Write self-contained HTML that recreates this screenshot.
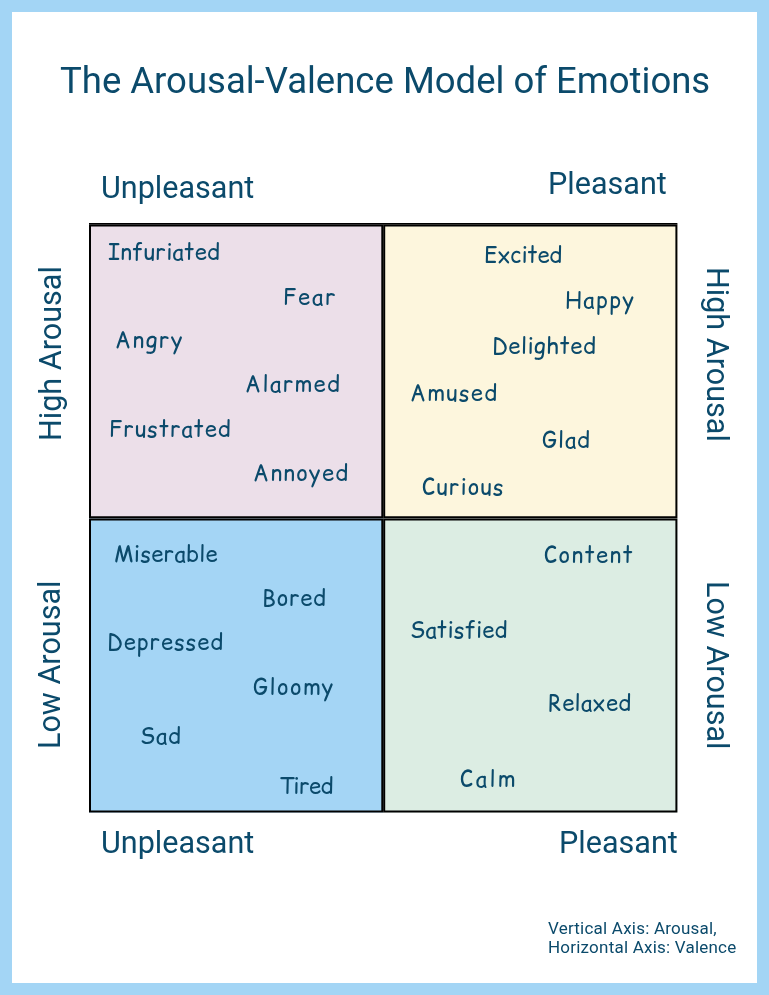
<!DOCTYPE html>
<html><head><meta charset="utf-8"><title>The Arousal-Valence Model of Emotions</title><style>
*{margin:0;padding:0;box-sizing:border-box}
html,body{width:769px;height:995px;overflow:hidden}
body{background:#a3d5f5;position:relative;font-family:"Roboto","Liberation Sans",sans-serif;color:#0b4a6b}
.card{position:absolute;left:12px;top:12px;width:745px;height:971px;background:#fff}
.t{position:absolute;white-space:nowrap;line-height:1;will-change:transform}
.r{font-family:"Roboto","Liberation Sans",sans-serif;}
.w{font-family:"Comic Relief","Comic Sans MS",cursive;font-size:22.0px;font-weight:400;color:#0b4a6b}
.g{position:absolute;left:0;top:0}
</style></head><body>
<div class="card"></div>
<div class="t r" style="left:59.6px;top:62.77px;font-size:36.5px;letter-spacing:0px">The Arousal-Valence Model of Emotions</div>
<div class="t r" style="left:101.2px;top:173.28px;font-size:30.55px;letter-spacing:0px">Unpleasant</div>
<div class="t r" style="left:548.1px;top:169.48px;font-size:30.55px;letter-spacing:0px">Pleasant</div>
<div class="t r" style="left:101.2px;top:828.28px;font-size:30.55px;letter-spacing:0px">Unpleasant</div>
<div class="t r" style="left:558.9px;top:828.18px;font-size:30.55px;letter-spacing:0px">Pleasant</div>
<div class="t r" style="left:35.88px;top:441.1px;font-size:30.55px;letter-spacing:0px;transform-origin:0 0;transform:rotate(-90deg)">High Arousal</div>
<div class="t r" style="left:35.08px;top:749.4px;font-size:30.55px;letter-spacing:0px;transform-origin:0 0;transform:rotate(-90deg)">Low Arousal</div>
<div class="t r" style="left:732.32px;top:267.0px;font-size:30.55px;letter-spacing:0px;transform-origin:0 0;transform:rotate(90deg)">High Arousal</div>
<div class="t r" style="left:732.22px;top:580.9px;font-size:30.55px;letter-spacing:0px;transform-origin:0 0;transform:rotate(90deg)">Low Arousal</div>
<svg class="g" width="769" height="995" viewBox="0 0 769 995"><rect x="89" y="224.5" width="294.3" height="293.8" fill="#ecdfe9"/><rect x="383.2" y="224.5" width="294.2" height="293.8" fill="#fdf6dd"/><rect x="89" y="518.5" width="294.3" height="294.0" fill="#a4d5f5"/><rect x="383.2" y="518.5" width="294.2" height="294.0" fill="#dcede3"/><path d="M89 224.5h294.3v293.8h-294.3z M91 226.5v289.8h290.3v-289.8z" fill="#000" fill-rule="evenodd"/><path d="M383.2 224.5h294.2v293.8h-294.2z M385.2 226.5v289.8h290.2v-289.8z" fill="#000" fill-rule="evenodd"/><path d="M89 518.5h294.3v294.0h-294.3z M91 520.5v290.0h290.3v-290.0z" fill="#000" fill-rule="evenodd"/><path d="M383.2 518.5h294.2v294.0h-294.2z M385.2 520.5v290.0h290.2v-290.0z" fill="#000" fill-rule="evenodd"/><rect x="89" y="223.0" width="588.4" height="1.6" fill="#000"/></svg>
<div class="t w" style="left:108.46px;top:241.16px;letter-spacing:0.280px">Infuriated</div>
<div class="t w" style="left:283.04px;top:285.81px;letter-spacing:1.740px">Fear</div>
<div class="t w" style="left:114.60px;top:329.28px;letter-spacing:1.530px">Angry</div>
<div class="t w" style="left:245.04px;top:372.82px;letter-spacing:1.470px">Alarmed</div>
<div class="t w" style="left:108.56px;top:417.87px;letter-spacing:0.900px">Frustrated</div>
<div class="t w" style="left:253.08px;top:461.82px;letter-spacing:1.350px">Annoyed</div>
<div class="t w" style="left:484.02px;top:243.62px;letter-spacing:-0.210px">Excited</div>
<div class="t w" style="left:565.02px;top:288.93px;letter-spacing:1.440px">Happy</div>
<div class="t w" style="left:491.56px;top:335.28px;letter-spacing:0.495px">Delighted</div>
<div class="t w" style="left:409.52px;top:382.34px;letter-spacing:1.368px">Amused</div>
<div class="t w" style="left:541.98px;top:429.27px;letter-spacing:0.960px">Glad</div>
<div class="t w" style="left:422.48px;top:476.25px;letter-spacing:1.050px">Curious</div>
<div class="t w" style="left:113.92px;top:543.32px;letter-spacing:0.292px">Miserable</div>
<div class="t w" style="left:261.58px;top:586.76px;letter-spacing:0.765px">Bored</div>
<div class="t w" style="left:106.58px;top:630.76px;letter-spacing:0.922px">Depressed</div>
<div class="t w" style="left:253.48px;top:676.25px;letter-spacing:1.512px">Gloomy</div>
<div class="t w" style="left:139.60px;top:724.66px;letter-spacing:0.720px">Sad</div>
<div class="t w" style="left:278.50px;top:774.85px;letter-spacing:-0.585px">Tired</div>
<div class="t w" style="left:544.40px;top:543.73px;letter-spacing:1.350px">Content</div>
<div class="t w" style="left:409.52px;top:618.62px;letter-spacing:0.180px">Satisfied</div>
<div class="t w" style="left:548.44px;top:692.43px;letter-spacing:0.360px">Relaxed</div>
<div class="t w" style="left:460.48px;top:767.75px;letter-spacing:2.460px">Calm</div>
<div class="t r" style="left:548.0px;top:918.7px;font-size:17px;line-height:18.8px;letter-spacing:0.22px;color:#0b4a6b">Vertical Axis: Arousal,<br>Horizontal Axis: Valence</div>
</body></html>
